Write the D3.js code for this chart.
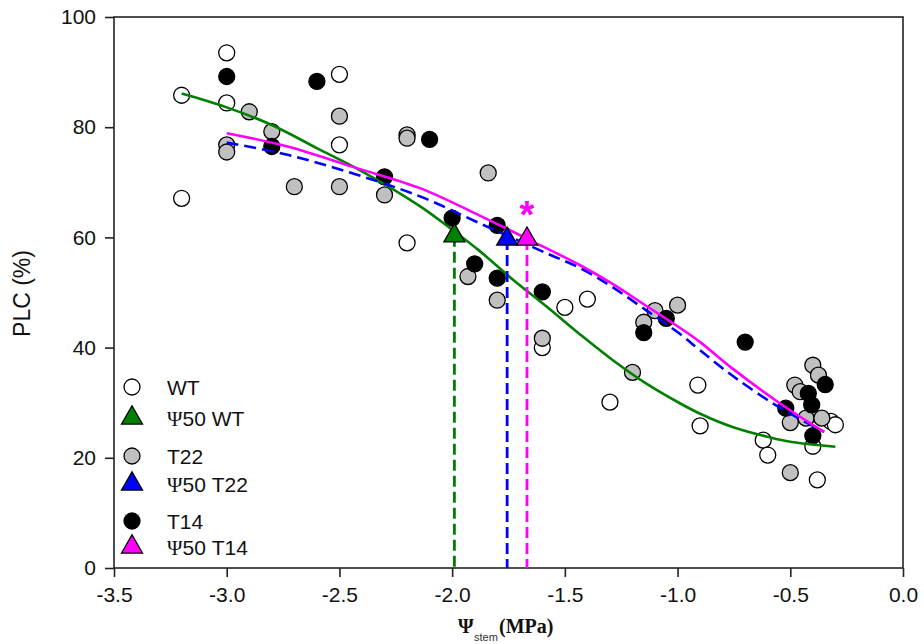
<!DOCTYPE html>
<html>
<head>
<meta charset="utf-8">
<script src="https://cdn.jsdelivr.net/npm/d3@7"></script>
<style>
  body { margin: 0; background: #fff; }
  svg { display: block; }
  .tick text { font-family: "Liberation Sans", Arial, sans-serif; font-size: 21px; fill: #111; }
</style>
</head>
<body>
<svg id="chart" width="924" height="644"></svg>
<script>
// ---- data ----
let wtPoints = [
    [-3.2, 85.8], [-3.2, 67.1], [-3.0, 93.5], [-3.0, 84.4], [-2.5, 89.6], [-2.5, 76.8],
    [-2.2, 59.0], [-1.6, 40.0], [-1.5, 47.3], [-1.4, 48.8], [-1.3, 30.1], [-0.91, 33.2],
    [-0.9, 25.8], [-0.62, 23.2], [-0.6, 20.5], [-0.4, 22.1], [-0.38, 16.0], [-0.32, 26.6], [-0.3, 26.0]
]
let t22Points = [
    [-3.0, 76.8], [-3.0, 75.5], [-2.9, 82.8], [-2.8, 79.2], [-2.7, 69.2], [-2.5, 82.0],
    [-2.5, 69.2], [-2.3, 67.7], [-2.2, 78.6], [-2.2, 78.0], [-1.84, 71.7], [-1.93, 52.9],
    [-1.8, 48.6], [-1.6, 41.7], [-1.2, 35.5], [-1.15, 44.6], [-1.1, 46.7], [-1.0, 47.7],
    [-0.5, 26.4], [-0.5, 17.3], [-0.48, 33.2], [-0.456, 32.0], [-0.43, 27.2], [-0.4, 36.8],
    [-0.375, 35.0], [-0.36, 27.2]
]
let t14Points = [
    [-3.0, 89.2], [-2.8, 76.5], [-2.6, 88.3], [-2.3, 71.0], [-2.1, 77.8], [-2.0, 63.5],
    [-1.9, 55.2], [-1.8, 62.2], [-1.8, 52.6], [-1.6, 50.1], [-1.15, 42.7], [-1.05, 45.3],
    [-0.7, 41.0], [-0.52, 29.0], [-0.42, 31.7], [-0.405, 29.6], [-0.4, 24.0], [-0.345, 33.3]
]

// fitted curves (traced)
let wtFit = [
    [-3.2, 86.1], [-3.0, 83.6], [-2.8, 80.4], [-2.6, 76.2], [-2.4, 72.0], [-2.14, 65.6],
    [-2.0, 61.4], [-1.88, 57.6], [-1.73, 52.3], [-1.58, 47.4], [-1.43, 42.3], [-1.29, 37.8],
    [-1.14, 33.5], [-0.99, 29.9], [-0.9, 28.0], [-0.75, 25.5], [-0.6, 23.8], [-0.5, 22.9], [-0.3, 22.0]
]
let t22Fit = [
    [-3.0, 77.2], [-2.73, 75.0], [-2.44, 71.6], [-2.14, 67.4], [-1.88, 62.6], [-1.58, 57.1],
    [-1.43, 54.4], [-1.29, 51.0], [-1.14, 46.8], [-0.99, 42.5], [-0.9, 39.5], [-0.75, 34.7],
    [-0.55, 29.2], [-0.35, 24.7]
]
let t14Fit = [
    [-3.0, 78.9], [-2.73, 76.5], [-2.44, 72.8], [-2.14, 68.9], [-1.88, 64.0], [-1.64, 59.2],
    [-1.43, 54.9], [-1.29, 51.6], [-1.14, 47.6], [-0.99, 43.6], [-0.9, 41.0], [-0.75, 36.0],
    [-0.55, 30.0], [-0.35, 24.7]
]

// psi50 markers: [x, PLC]
let psi50 = [
    { name: "WT", x: -1.99, y: 60.3, color: "#008000" },
    { name: "T22", x: -1.756, y: 59.7, color: "#0000ff" },
    { name: "T14", x: -1.668, y: 59.7, color: "#ff00ff" }
]

let xTicks = [-3.5, -3.0, -2.5, -2.0, -1.5, -1.0, -0.5, 0.0]
let xTickLabels = ["-3.5", "-3.0", "-2.5", "-2.0", "-1.5", "-1.0", "-0.5", "0.0"]
let yTicks = [0, 20, 40, 60, 80, 100]

let legendItems = [
    { label: "WT", kind: "circle", fill: "#ffffff" },
    { label: "\u03A850 WT", kind: "tri", fill: "#008000" },
    { label: "T22", kind: "circle", fill: "#c0c0c0" },
    { label: "\u03A850 T22", kind: "tri", fill: "#0000ff" },
    { label: "T14", kind: "circle", fill: "#000000" },
    { label: "\u03A850 T14", kind: "tri", fill: "#ff00ff" }
]

/* ------------------------- SETUP ------------------------- */

let svg = d3.select("#chart")
let x = d3.scaleLinear().domain([-3.5, 0]).range([114, 903])
let y = d3.scaleLinear().domain([0, 100]).range([568, 17])

let triSymbol = d3.symbol().type(d3.symbolTriangle).size(190)

/* ------------------------- AXES ------------------------- */

svg.append('g')
    .attr('transform', 'translate(0,' + y(0) + ')')
    .call(d3.axisBottom(x).tickValues(xTicks).tickFormat((d, i) => xTickLabels[i])
        .tickSize(9).tickSizeOuter(0).tickPadding(10))
svg.append('g')
    .attr('transform', 'translate(' + x(-3.5) + ',0)')
    .call(d3.axisLeft(y).tickValues(yTicks).tickSize(9).tickSizeOuter(0).tickPadding(9))

svg.selectAll('.domain').remove()
svg.selectAll('.tick line').attr('stroke', '#222').attr('stroke-width', 1.6)

// plot frame
svg.append('rect')
    .attr('x', x(-3.5)).attr('y', y(100))
    .attr('width', x(0) - x(-3.5)).attr('height', y(0) - y(100))
    .attr('fill', 'none').attr('stroke', '#222').attr('stroke-width', 1.6)

svg.append('text')
    .attr('transform', 'translate(30,' + (y(50) + 1) + ') rotate(-90)')
    .attr('text-anchor', 'middle')
    .attr('font-family', '"Liberation Sans", Arial, sans-serif')
    .attr('font-size', 23)
    .attr('fill', '#111')
    .text('PLC (%)')

// x label: Psi_stem (MPa)
let xl = svg.append('g').attr('fill', '#111')
xl.append('text').attr('x', 458).attr('y', 633)
    .attr('font-family', '"Liberation Serif", "Times New Roman", serif')
    .attr('font-weight', 'bold').attr('font-size', 20).text('\u03A8')
xl.append('text').attr('x', 474).attr('y', 641)
    .attr('font-family', '"Liberation Sans", Arial, sans-serif')
    .attr('font-size', 11).attr('fill', '#333').text('stem')
xl.append('text').attr('x', 499).attr('y', 633)
    .attr('font-family', '"Liberation Serif", "Times New Roman", serif')
    .attr('font-weight', 'bold').attr('font-size', 20).text('(MPa)')

/* ------------------------- POINTS ------------------------- */

function drawPoints(data, fill) {
    svg.append('g')
        .selectAll('circle')
        .data(data)
        .enter()
            .append('circle')
            .attr('cx', d => x(d[0]))
            .attr('cy', d => y(d[1]))
            .attr('r', 8)
            .attr('fill', fill)
            .attr('stroke', '#000')
            .attr('stroke-width', 1.3)
}

drawPoints(wtPoints, '#ffffff')
drawPoints(t22Points, '#c0c0c0')
drawPoints(t14Points, '#000000')

/* ------------------------- CURVES ------------------------- */

let line = d3.line()
    .x(d => x(d[0]))
    .y(d => y(d[1]))
    .curve(d3.curveCatmullRom.alpha(0.5))

svg.append('path').datum(wtFit)
    .attr('d', line).attr('fill', 'none')
    .attr('stroke', '#008000').attr('stroke-width', 2.6)
svg.append('path').datum(t22Fit)
    .attr('d', line).attr('fill', 'none')
    .attr('stroke', '#0000ff').attr('stroke-width', 2.6)
    .attr('stroke-dasharray', '12,6')
svg.append('path').datum(t14Fit)
    .attr('d', line).attr('fill', 'none')
    .attr('stroke', '#ff00ff').attr('stroke-width', 2.6)

/* ------------------------- PSI50 ------------------------- */

svg.append('g')
    .selectAll('line')
    .data(psi50)
    .enter()
        .append('line')
        .attr('x1', d => x(d.x)).attr('x2', d => x(d.x))
        .attr('y1', d => y(d.y)).attr('y2', y(0))
        .attr('stroke', d => d.color)
        .attr('stroke-width', 2.8)
        .attr('stroke-dasharray', '11,5')

svg.append('g')
    .selectAll('path')
    .data(psi50)
    .enter()
        .append('path')
        .attr('d', triSymbol)
        .attr('transform', d => 'translate(' + x(d.x) + ',' + y(d.y) + ')')
        .attr('fill', d => d.color)
        .attr('stroke', '#000')
        .attr('stroke-width', 1.3)

// significance star over T14
svg.append('text')
    .attr('x', x(psi50[2].x)).attr('y', y(psi50[2].y) - 11)
    .attr('text-anchor', 'middle')
    .attr('font-family', '"Liberation Sans", Arial, sans-serif')
    .attr('font-weight', 'bold')
    .attr('font-size', 38)
    .attr('fill', '#ff00ff')
    .text('*')

/* ------------------------- LEGEND ------------------------- */

let legendY = [387, 418, 456, 484, 521, 547]
let legend = svg.append('g')
legendItems.forEach(function (item, i) {
    let g = legend.append('g').attr('transform', 'translate(132,' + legendY[i] + ')')
    if (item.kind == "circle") {
        g.append('circle').attr('r', 8).attr('fill', item.fill)
            .attr('stroke', '#000').attr('stroke-width', 1.3)
    } else {
        g.append('path').attr('d', triSymbol).attr('fill', item.fill)
            .attr('stroke', '#000').attr('stroke-width', 1.3)
    }
    let t = g.append('text').attr('x', 35).attr('dy', '0.36em')
        .attr('font-family', '"Liberation Sans", Arial, sans-serif')
        .attr('font-size', 21).attr('fill', '#111')
    if (item.label.startsWith('\u03A8')) {
        t.append('tspan').attr('font-family', '"Liberation Serif", "Times New Roman", serif').text('\u03A8')
        t.append('tspan').text(item.label.slice(1))
    } else {
        t.text(item.label)
    }
})
</script>
</body>
</html>
